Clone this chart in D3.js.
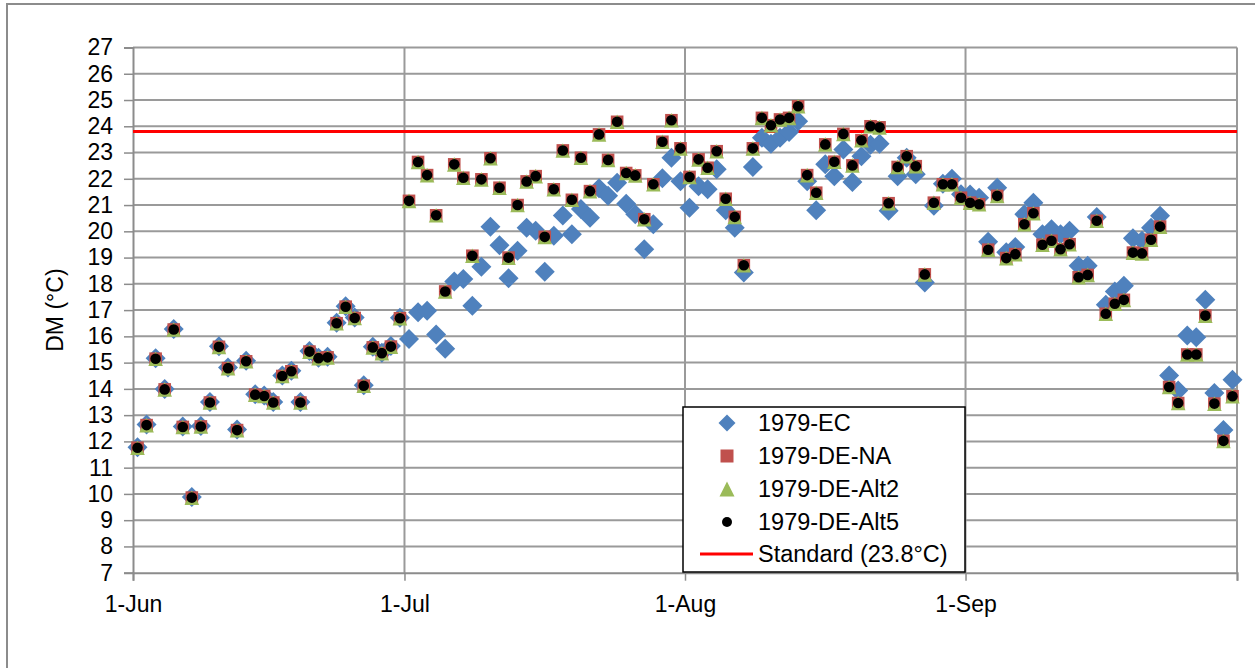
<!DOCTYPE html>
<html>
<head>
<meta charset="utf-8">
<script src="https://cdn.jsdelivr.net/npm/d3@7"></script>
<style>
  html, body { margin: 0; padding: 0; background: #fff; }
  svg { display: block; font-family: "Liberation Sans", Arial, sans-serif; }
</style>
</head>
<body>
<svg id="chart" width="1255" height="668"></svg>
<script>
// ---- Data ----
const startDate = new Date(1979, 5, 1);   // 1-Jun-1979
const endDate   = new Date(1979, 9, 1);   // 1-Oct-1979
const days = d3.timeDay.range(startDate, endDate); // 1-Jun .. 30-Sep (122 days)

const monthTicks = [new Date(1979,5,1), new Date(1979,6,1), new Date(1979,7,1), new Date(1979,8,1), new Date(1979,9,1)];
const monthTickLabels = ["1-Jun", "1-Jul", "1-Aug", "1-Sep", ""];
const yTicks = [7,8,9,10,11,12,13,14,15,16,17,18,19,20,21,22,23,24,25,26,27];

// 1979-EC daily values (°C)
const ecValues = [
  11.78, 12.64, 15.17, 14.00, 16.28, 12.57, 9.88, 12.59, 13.50, 15.62,
  14.81, 12.45, 15.07, 13.80, 13.75, 13.50, 14.51, 14.69, 13.50, 15.44,
  15.19, 15.22, 16.52, 17.15, 16.72, 14.14, 15.60, 15.38, 15.63, 16.71,
  15.90, 16.92, 16.98, 16.07, 15.53, 18.09, 18.18, 17.17, 18.65, 20.17,
  19.47, 18.21, 19.26, 20.14, 20.02, 18.46, 19.83, 20.60, 19.89, 20.85,
  20.52, 21.64, 21.35, 21.85, 21.05, 20.65, 19.32, 20.27, 22.02, 22.80,
  21.91, 20.90, 21.72, 21.60, 22.36, 20.80, 20.14, 18.43, 22.45, 23.56,
  23.33, 23.56, 23.78, 24.19, 21.91, 20.80, 22.55, 22.10, 23.12, 21.88,
  22.86, 23.30, 23.33, 20.78, 22.10, 22.80, 22.17, 18.05, 20.97, 21.81,
  22.00, 21.41, 21.40, 21.28, 19.60, 21.66, 19.20, 19.40, 20.65, 21.09,
  19.89, 20.08, 19.89, 20.02, 18.69, 18.69, 20.55, 17.20, 17.71, 17.93,
  19.74, 19.64, 20.14, 20.59, 14.51, 13.94, 16.03, 15.97, 17.39, 13.84,
  12.43, 14.35
];

// 1979-DE-NA, 1979-DE-Alt2 and 1979-DE-Alt5 are indistinguishable in the picture:
// one set of readings is used for all three series.
const deValues = [
  11.76, 12.62, 15.15, 13.98, 16.26, 12.55, 9.86, 12.57, 13.48, 15.60,
  14.79, 12.43, 15.05, 13.78, 13.73, 13.48, 14.49, 14.67, 13.48, 15.42,
  15.17, 15.20, 16.50, 17.13, 16.70, 14.12, 15.58, 15.36, 15.61, 16.69,
  21.16, 22.64, 22.14, 20.61, 17.71, 22.55, 22.04, 19.07, 21.98, 22.78,
  21.66, 19.00, 21.00, 21.90, 22.10, 19.79, 21.60, 23.08, 21.20, 22.80,
  21.53, 23.69, 22.72, 24.17, 22.22, 22.13, 20.46, 21.79, 23.41, 24.23,
  23.16, 22.07, 22.74, 22.42, 23.05, 21.24, 20.55, 18.71, 23.16, 24.32,
  24.04, 24.26, 24.32, 24.76, 22.14, 21.47, 23.31, 22.65, 23.71, 22.51,
  23.47, 24.00, 23.96, 21.07, 22.45, 22.86, 22.48, 18.36, 21.09, 21.79,
  21.79, 21.28, 21.09, 21.03, 19.30, 21.35, 18.98, 19.13, 20.27, 20.69,
  19.49, 19.64, 19.32, 19.51, 18.25, 18.34, 20.40, 16.86, 17.24, 17.39,
  19.19, 19.16, 19.68, 20.18, 14.07, 13.46, 15.31, 15.31, 16.79, 13.44,
  12.02, 13.72
];

const standardValue = 23.8;

const seriesNames = ["1979-EC", "1979-DE-NA", "1979-DE-Alt2", "1979-DE-Alt5"];
const seriesValues = [ecValues, deValues, deValues, deValues];
const seriesColors = ["#4F81BD", "#C0504D", "#9BBB59", "#000000"];
const seriesShapes = ["diamond", "square", "triangle", "circle"];
const standardName = "Standard (23.8°C)";
const standardColor = "#FF0000";
const yAxisTitle = "DM (°C)";

// ---- Layout ----
const svg = d3.select("#chart");
const plotLeft = 133, plotRight = 1237, plotTop = 47.5, plotBottom = 572.7;
const fontSize = 23;
const legendFontSize = 23.5;

const x = d3.scaleTime().domain([startDate, endDate]).range([plotLeft, plotRight]);
const y = d3.scaleLinear().domain([7, 27]).range([plotBottom, plotTop]);

const gridColor = "#9a9a9a";
const axisColor = "#8c8c8c";

// outer chart frame
svg.append("rect").attr("x", 7).attr("y", 4).attr("width", 1270).attr("height", 700)
  .attr("fill", "none").attr("stroke", "#8c8c8c").attr("stroke-width", 2);

// horizontal gridlines
svg.append("g").selectAll("line").data(yTicks.slice(1)).join("line")
  .attr("x1", plotLeft).attr("x2", plotRight)
  .attr("y1", d => y(d)).attr("y2", d => y(d))
  .attr("stroke", gridColor).attr("stroke-width", 2);

// vertical gridlines
svg.append("g").selectAll("line").data(monthTicks.slice(1)).join("line")
  .attr("x1", d => x(d)).attr("x2", d => x(d))
  .attr("y1", plotTop).attr("y2", plotBottom)
  .attr("stroke", gridColor).attr("stroke-width", 2);

// y axis
const yAxis = d3.axisLeft(y).tickValues(yTicks).tickSize(9).tickPadding(11).tickFormat(d3.format("d"));
const gy = svg.append("g").attr("transform", `translate(${plotLeft},0)`).call(yAxis);
gy.select(".domain").attr("stroke", axisColor).attr("stroke-width", 2);
gy.selectAll(".tick line").attr("stroke", axisColor).attr("stroke-width", 1.5);
gy.selectAll(".tick text").attr("font-size", fontSize).attr("fill", "#000")
  .attr("font-family", "Liberation Sans, Arial, sans-serif");

// x axis
const xAxis = d3.axisBottom(x).tickValues(monthTicks).tickSize(8).tickPadding(15)
  .tickFormat((d, i) => monthTickLabels[i]);
const gx = svg.append("g").attr("transform", `translate(0,${plotBottom})`).call(xAxis);
gx.select(".domain").attr("stroke", axisColor).attr("stroke-width", 2);
gx.selectAll(".tick line").attr("stroke", axisColor).attr("stroke-width", 1.5);
gx.selectAll(".tick text").attr("font-size", fontSize).attr("fill", "#000")
  .attr("font-family", "Liberation Sans, Arial, sans-serif");

// y axis title
svg.append("text")
  .attr("transform", `translate(63,${(plotTop + plotBottom) / 2}) rotate(-90)`)
  .attr("text-anchor", "middle").attr("font-size", fontSize).attr("fill", "#000")
  .text(yAxisTitle);

// standard line
svg.append("line")
  .attr("x1", plotLeft).attr("x2", plotRight)
  .attr("y1", y(standardValue)).attr("y2", y(standardValue))
  .attr("stroke", standardColor).attr("stroke-width", 3);

// marker drawing
function drawMarker(sel, shape, color, size) {
  const s = size;
  if (shape === "diamond") {
    sel.append("path").attr("d", `M0,${-s}L${s},0L0,${s}L${-s},0Z`).attr("fill", color);
  } else if (shape === "square") {
    sel.append("rect").attr("x", -s).attr("y", -s).attr("width", 2 * s).attr("height", 2 * s).attr("fill", color);
  } else if (shape === "triangle") {
    sel.append("path").attr("d", `M0,${-s}L${s},${s}L${-s},${s}Z`).attr("fill", color);
  } else {
    sel.append("circle").attr("r", s).attr("fill", color);
  }
}
const markerSizes = { diamond: 10, square: 6.3, triangle: 7.3, circle: 5.3 };

const halfDay = 12 * 3600 * 1000;
seriesValues.forEach((vals, si) => {
  const g = svg.append("g");
  const pts = g.selectAll("g").data(vals.map((v, i) => ({ date: days[i], v }))).join("g")
    .attr("transform", d => `translate(${x(new Date(+d.date + halfDay))},${y(d.v)})`);
  pts.each(function() {
    drawMarker(d3.select(this), seriesShapes[si], seriesColors[si], markerSizes[seriesShapes[si]]);
  });
});

// legend
const lg = svg.append("g");
lg.append("rect").attr("x", 683).attr("y", 407).attr("width", 282).attr("height", 165)
  .attr("fill", "#fff").attr("stroke", "#000").attr("stroke-width", 1.5);
const legendRowY = [423, 456, 489, 522, 554];
const legendMarkerSize = { diamond: 8.5, square: 6.5, triangle: 7.5, circle: 5 };
seriesNames.forEach((name, i) => {
  const row = lg.append("g").attr("transform", `translate(727,${legendRowY[i]})`);
  drawMarker(row, seriesShapes[i], seriesColors[i], legendMarkerSize[seriesShapes[i]]);
  lg.append("text").attr("x", 758).attr("y", legendRowY[i]).attr("dy", "0.35em")
    .attr("font-size", legendFontSize).attr("fill", "#000").text(name);
});
lg.append("line").attr("x1", 700).attr("x2", 753)
  .attr("y1", legendRowY[4]).attr("y2", legendRowY[4])
  .attr("stroke", standardColor).attr("stroke-width", 3);
lg.append("text").attr("x", 758).attr("y", legendRowY[4]).attr("dy", "0.35em")
  .attr("font-size", legendFontSize).attr("fill", "#000").text(standardName);
</script>
</body>
</html>
